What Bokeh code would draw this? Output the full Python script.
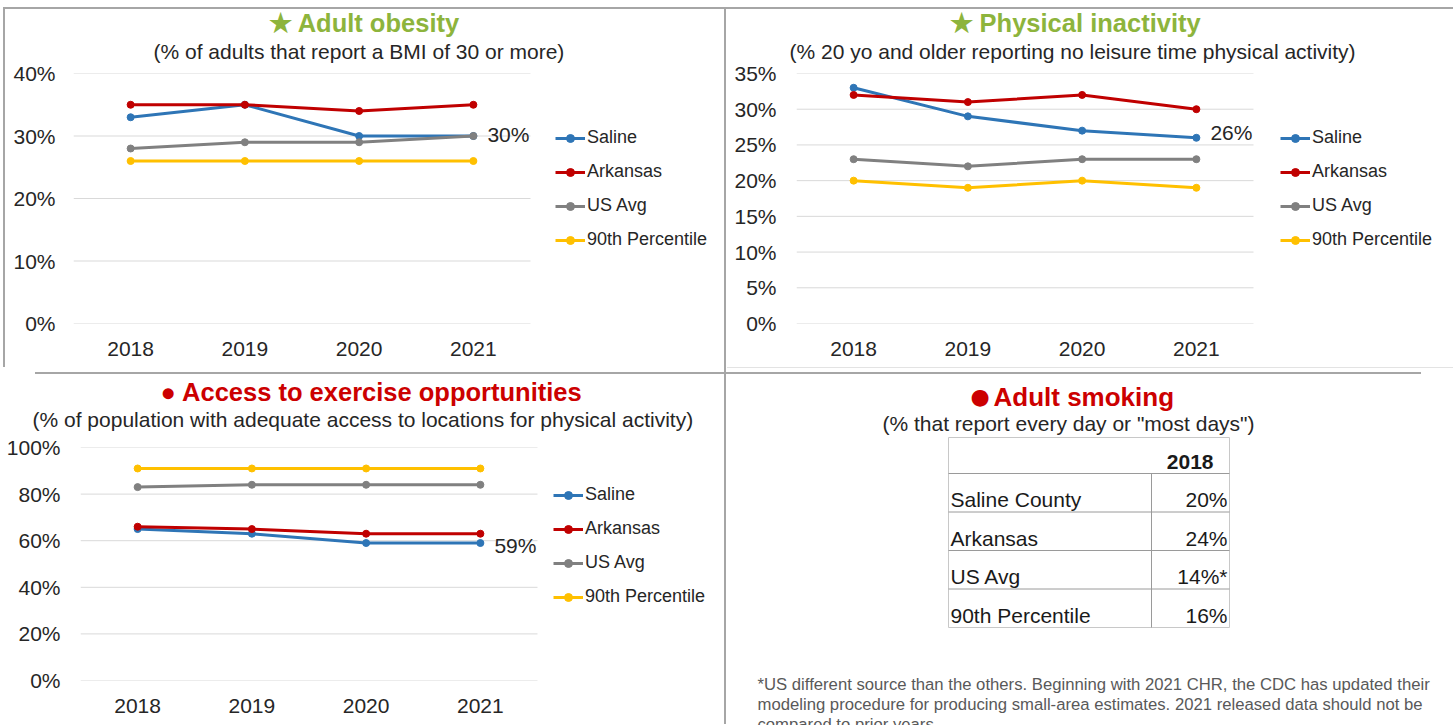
from bokeh.plotting import figure
from bokeh.models import (Range1d, FixedTicker, PrintfTickFormatter,
                          Legend, LegendItem, Title)
from bokeh.layouts import column, row
from bokeh.embed import file_html
from bokeh.resources import INLINE
from bokeh.core.properties import value

FONT = "Liberation Sans"

# ---------------- data ----------------
years = ["2018", "2019", "2020", "2021"]
series_names = ["Saline", "Arkansas", "US Avg", "90th Percentile"]
series_colors = ["#2E75B6", "#C00000", "#808080", "#FFC000"]

obesity_saline = [33, 35, 30, 30]
obesity_arkansas = [35, 35, 34, 35]
obesity_us = [28, 29, 29, 30]
obesity_p90 = [26, 26, 26, 26]
obesity_ticks = [0, 10, 20, 30, 40]

inactivity_saline = [33, 29, 27, 26]
inactivity_arkansas = [32, 31, 32, 30]
inactivity_us = [23, 22, 23, 23]
inactivity_p90 = [20, 19, 20, 19]
inactivity_ticks = [0, 5, 10, 15, 20, 25, 30, 35]

access_saline = [65, 63, 59, 59]
access_arkansas = [66, 65, 63, 63]
access_us = [83, 84, 84, 84]
access_p90 = [91, 91, 91, 91]
access_ticks = [0, 20, 40, 60, 80, 100]

smoking_year = "2018"
smoking_rows = ["Saline County", "Arkansas", "US Avg", "90th Percentile"]
smoking_values = ["20%", "24%", "14%*", "16%"]

footnote_lines = [
    "*US different source than the others. Beginning with 2021 CHR, the CDC has updated their",
    "modeling procedure for producing small-area estimates. 2021 released data should not be",
    "compared to prior years.",
]

GREEN = "#8DB43C"
RED = "#CC0000"
TEXT = "#262626"
GRID = "#D9D9D9"

year_vals = [int(y) for y in years]


def transparent(p):
    p.background_fill_alpha = 0
    p.border_fill_alpha = 0


def add_titles(p, title, color, title_offset, title_gap, subtitle,
               subtitle_offset, spacer):
    # spacer nearest the frame, then subtitle, then title
    p.add_layout(Title(text=" ", text_font_size="4px", standoff=spacer), "above")
    p.add_layout(Title(text=subtitle, text_font=FONT, text_font_size="21px",
                       text_font_style="normal", text_color=TEXT, align="left",
                       offset=subtitle_offset, standoff=0,
                       vertical_align="bottom"), "above")
    p.add_layout(Title(text=title, text_font=FONT, text_font_size="25.5px",
                       text_font_style="bold", text_color=color, align="left",
                       offset=title_offset, standoff=title_gap,
                       vertical_align="bottom"), "above")


def line_chart(width, height, left, data_right, top, bottom, ticks, series,
               legend_xy, label_dy, y_standoff):
    # categories occupy [first-0.5, last+0.5] between `left` and `data_right`;
    # the frame continues to the right edge to hold the legend
    x0 = year_vals[0] - 0.5
    x1 = year_vals[-1] + 0.5
    ppy = (data_right - left) / (x1 - x0)
    x_end = x1 + (width - data_right) / ppy
    p = figure(width=width, height=height, x_range=Range1d(x0, x_end),
               y_range=Range1d(ticks[0], ticks[-1]),
               min_border_left=left, min_border_right=0,
               min_border_top=top, min_border_bottom=bottom,
               output_backend="svg", toolbar_location=None)
    transparent(p)
    p.outline_line_color = None
    p.grid.visible = False
    p.yaxis.ticker = FixedTicker(ticks=ticks)
    p.yaxis.formatter = PrintfTickFormatter(format="%d%%")
    p.xaxis.ticker = FixedTicker(ticks=year_vals)
    p.xaxis.formatter = PrintfTickFormatter(format="%d")
    for ax in (p.xaxis[0], p.yaxis[0]):
        ax.axis_line_color = None
        ax.major_tick_line_color = None
        ax.minor_tick_line_color = None
        ax.major_tick_out = 0
        ax.major_tick_in = 0
        ax.minor_tick_out = 0
        ax.major_label_text_font = FONT
        ax.major_label_text_font_size = "21px"
        ax.major_label_text_color = TEXT
    p.yaxis.major_label_standoff = y_standoff
    p.xaxis.major_label_standoff = 18

    # horizontal gridlines over the category span only
    p.segment(x0=[x0] * len(ticks), x1=[x1] * len(ticks), y0=ticks, y1=ticks,
              line_color=GRID, line_width=1)

    items = []
    for name, color, vals in zip(series_names, series_colors, series):
        r1 = p.line(x=year_vals, y=vals, line_color=color, line_width=3)
        r2 = p.scatter(x=year_vals, y=vals, marker="circle", size=7,
                       fill_color=color, line_color=color)
        items.append(LegendItem(label=name, renderers=[r1, r2]))
    legend = Legend(items=items, location=legend_xy,
                    border_line_color=None, background_fill_alpha=0,
                    padding=0, margin=0, spacing=13,
                    label_height=20, glyph_height=20, glyph_width=30,
                    label_standoff=2, label_text_font=FONT,
                    label_text_font_size="18px", label_text_color=TEXT)
    p.add_layout(legend)

    sal = series[0]
    p.text(x=[year_vals[-1]], y=[sal[-1]], text=[f"{sal[-1]}%"], x_offset=14,
           y_offset=label_dy, text_baseline="middle", text_align="left",
           text_font=value(FONT), text_font_size="21px", text_color=TEXT)
    return p


p1 = line_chart(728, 368, 73, 530, 73, 45, obesity_ticks,
                [obesity_saline, obesity_arkansas, obesity_us, obesity_p90],
                (482, 73), -2, 18)
add_titles(p1, "\u2605 Adult obesity", GREEN, 195, 2,
           "(% of adults that report a BMI of 30 or more)", 80, 4)

p2 = line_chart(725, 368, 68, 525, 72, 45, inactivity_ticks,
                [inactivity_saline, inactivity_arkansas, inactivity_us, inactivity_p90],
                (484, 73), -5, 20)
add_titles(p2, "\u2605 Physical inactivity", GREEN, 153, 2,
           "(% 20 yo and older reporting no leisure time physical activity)", -7, 4)

p3 = line_chart(728, 357, 80, 537, 79, 45, access_ticks,
                [access_saline, access_arkansas, access_us, access_p90],
                (473, 73), 2, 20)
add_titles(p3, "\u25CF Access to exercise opportunities", RED, 80, 0,
           "(% of population with adequate access to locations for physical activity)", -48, 10)

# ---------------- table panel ----------------
W4, H4 = 725, 357
p4 = figure(width=W4, height=H4, x_range=Range1d(0, W4), y_range=Range1d(H4, 0),
            min_border=0, output_backend="svg", toolbar_location=None,
            x_axis_location=None, y_axis_location=None)
transparent(p4)
p4.grid.visible = False
p4.outline_line_color = None

tbl_left, tbl_right, tbl_div = 220, 501, 423
tbl_top, head_bottom, row_h = 69, 105, 38.5
n = len(smoking_rows)
tbl_bottom = head_bottom + n * row_h
row_tops = [head_bottom + i * row_h for i in range(n)]
row_mid = [t + 26 for t in row_tops]

p4.quad(left=[tbl_left], right=[tbl_right], top=[tbl_top], bottom=[tbl_bottom],
        fill_color=None, line_color="#C8C8C8", line_width=1)
p4.segment(x0=[tbl_left] * n, y0=row_tops, x1=[tbl_right] * n, y1=row_tops,
           line_color="#9A9A9A", line_width=1)
p4.segment(x0=[tbl_div], y0=[head_bottom], x1=[tbl_div], y1=[tbl_bottom],
           line_color="#9A9A9A", line_width=1)

p4.text(x=[tbl_right - 16], y=[head_bottom - 12], text=[smoking_year],
        text_align="right", text_baseline="middle", text_font=value(FONT),
        text_font_style="bold", text_font_size="21px", text_color="#1A1A1A")
p4.text(x=[tbl_left + 2] * n, y=row_mid, text=smoking_rows,
        text_align="left", text_baseline="middle", text_font=value(FONT),
        text_font_size="21px", text_color="#1A1A1A")
p4.text(x=[tbl_right - 2] * n, y=row_mid, text=smoking_values,
        text_align="right", text_baseline="middle", text_font=value(FONT),
        text_font_size="21px", text_color="#1A1A1A")

p4.text(x=[29] * len(footnote_lines), y=[316, 336, 356], text=footnote_lines,
        text_align="left", text_baseline="middle", text_font=value(FONT),
        text_font_size="16.7px", text_color="#595959")

p4.text(x=[242], y=[28], text=["\u25CF"], text_align="left",
        text_baseline="middle", text_font=value("DejaVu Sans"),
        text_font_size="22px", text_color=RED)
p4.text(x=[265], y=[28], text=["Adult smoking"], text_align="left",
        text_baseline="middle", text_font=value(FONT), text_font_style="bold",
        text_font_size="26px", text_color=RED)
p4.text(x=[340], y=[55], text=['(% that report every day or "most days")'],
        text_align="center", text_baseline="middle", text_font=value(FONT),
        text_font_size="21px", text_color=TEXT)

# thin grey frame lines between the four panels (page background)
G = "linear-gradient(#A6A6A6,#A6A6A6)"
GL = "linear-gradient(#E3E3E3,#E3E3E3)"
frame_css = {
    "background-color": "white",
    "background-image": ", ".join([G, G, G, G, G, GL]),
    "background-size": "1449px 2px, 2px 360px, 2px 717px, 690px 2px, 696px 2px, 726px 1px",
    "background-position": "4px 7px, 3px 7px, 724px 7px, 35px 372px, 725px 372px, 727px 367px",
    "background-repeat": "no-repeat",
}

layout = column(row(p1, p2), row(p3, column(p4)), styles=frame_css)
open("out.html", "w").write(file_html(layout, INLINE))
